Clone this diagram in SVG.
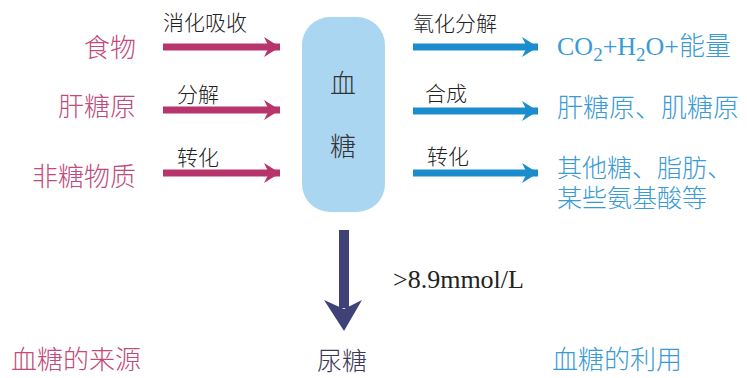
<svg xmlns="http://www.w3.org/2000/svg" width="747" height="378" viewBox="0 0 747 378">
<style>
.cjk{font-family:"Noto Sans CJK SC","Liberation Sans",sans-serif;font-weight:300;}
.src{fill:#c24a7c;font-size:26px;}
.use{fill:#3a9ad4;font-size:26px;}
.lbl{fill:#222;font-size:21px;}
.pink{stroke:#b8346c;stroke-width:7;fill:none;}
.blue{stroke:#1b8ccc;stroke-width:7;fill:none;}
.ser{font-family:"Liberation Serif",serif;}
</style>
<defs>
<marker id="hp" markerUnits="userSpaceOnUse" markerWidth="24" markerHeight="24" refX="20" refY="12" orient="auto">
<path d="M4,2 L20,12 L4,22 L9,12 Z" fill="#b8346c"/>
</marker>
<marker id="hb" markerUnits="userSpaceOnUse" markerWidth="24" markerHeight="24" refX="20" refY="12" orient="auto">
<path d="M4,2 L20,12 L4,22 L9,12 Z" fill="#1b8ccc"/>
</marker>
</defs>
<rect width="747" height="378" fill="#fff"/>
<g id="sources" class="cjk src">
<text x="136" y="57" text-anchor="end">食物</text>
<text x="136" y="116" text-anchor="end">肝糖原</text>
<text x="136" y="186" text-anchor="end">非糖物质</text>
</g>
<g id="blood-sugar">
<rect x="302" y="17" width="83" height="195" rx="28" fill="#abd6f1"/>
<text class="cjk" x="343" y="93" text-anchor="middle" font-size="26" fill="#333">血</text>
<text class="cjk" x="343" y="156" text-anchor="middle" font-size="26" fill="#333">糖</text>
</g>
<g id="uses" class="use">
<text x="557" y="55" class="ser" font-size="26">CO<tspan font-size="19" dy="6">2</tspan><tspan dy="-6">+H</tspan><tspan font-size="19" dy="6">2</tspan><tspan dy="-6">O+</tspan><tspan class="cjk">能量</tspan></text>
<text class="cjk" x="557" y="117">肝糖原、肌糖原</text>
<text class="cjk" font-size="25"><tspan x="557" y="177">其他糖、脂肪、</tspan><tspan x="557" y="207">某些氨基酸等</tspan></text>
</g>
<g id="connectors">
<line class="pink" x1="163" y1="47" x2="280" y2="47" marker-end="url(#hp)"/>
<line class="pink" x1="163" y1="110" x2="280" y2="110" marker-end="url(#hp)"/>
<line class="pink" x1="163" y1="173" x2="280" y2="173" marker-end="url(#hp)"/>
<line class="blue" x1="413" y1="47" x2="538" y2="47" marker-end="url(#hb)"/>
<line class="blue" x1="413" y1="111" x2="538" y2="111" marker-end="url(#hb)"/>
<line class="blue" x1="413" y1="173" x2="538" y2="173" marker-end="url(#hb)"/>
<rect x="339" y="230" width="10" height="78" fill="#3f4277"/>
<path d="M324,300 L344,331 L362,300 L344,309 Z" fill="#3f4277"/>
</g>
<g id="edge-labels" class="cjk lbl">
<text x="163" y="30">消化吸收</text>
<text x="177" y="102">分解</text>
<text x="177" y="165">转化</text>
<text x="413" y="31">氧化分解</text>
<text x="425" y="101">合成</text>
<text x="427" y="164">转化</text>
</g>
<text class="ser" x="393" y="288" font-size="26" fill="#222">&gt;8.9mmol/L</text>
<g id="urine-sugar"><text class="cjk" x="342" y="370" text-anchor="middle" font-size="25" fill="#3a3a5a">尿糖</text></g>
<text class="cjk" x="11" y="369" font-size="26" fill="#c24a7c">血糖的来源</text>
<text class="cjk" x="552" y="369" font-size="26" fill="#3a9ad4">血糖的利用</text>
</svg>
